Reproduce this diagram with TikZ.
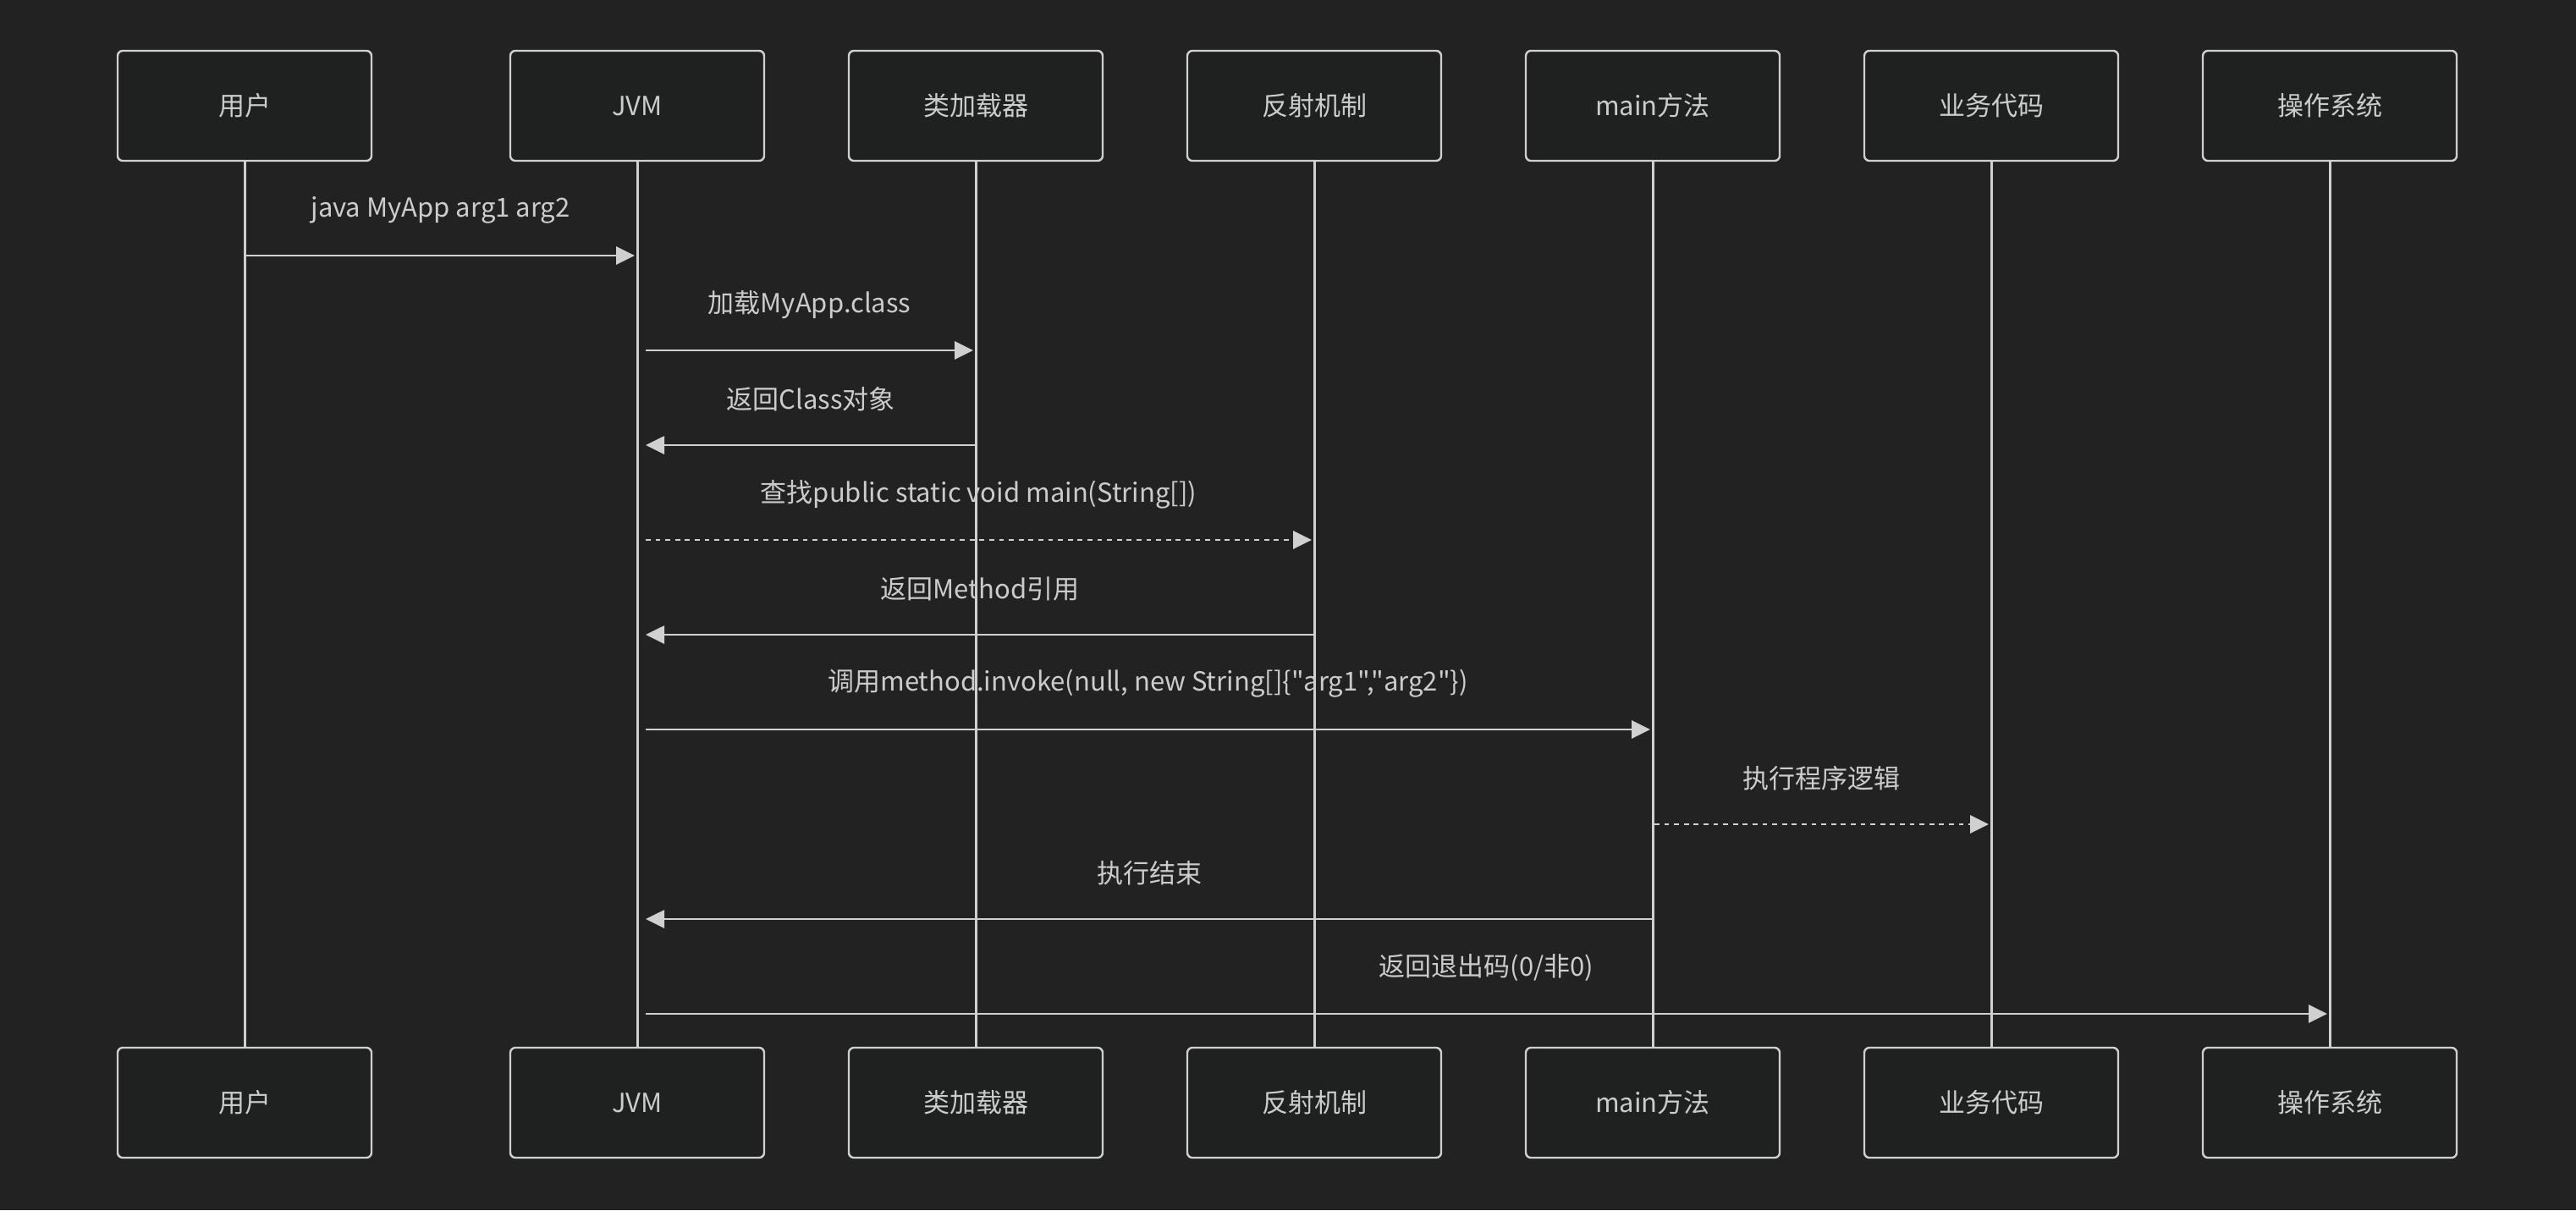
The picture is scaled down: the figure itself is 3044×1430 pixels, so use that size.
\documentclass[tikz,border=0pt]{standalone}
\usepackage{fontspec}
\setmainfont{Noto Sans CJK SC}[Ligatures=TeXOff]
\usetikzlibrary{arrows.meta}
\definecolor{bg}{HTML}{222222}
\definecolor{boxfill}{HTML}{1F2020}
\definecolor{ln}{HTML}{D0D0D0}
\definecolor{txt}{HTML}{CCCCCC}
\begin{document}
\begin{tikzpicture}[x=0.5pt,y=-0.5pt,
  actor/.style={draw=ln, fill=boxfill, line width=1.2pt, rounded corners=3pt,
    minimum width=150pt, minimum height=65pt, inner sep=0pt, text=txt,
    font=\fontsize{15.5}{18}\selectfont},
  life/.style={draw=ln, line width=1.5pt},
  msg/.style={draw=ln, line width=1.4pt, -{Triangle[length=11pt,width=10.5pt]}},
  dotmsg/.style={msg, dash pattern=on 2.9pt off 2.9pt},
  lbl/.style={text=txt, font=\fontsize{15.5}{18}\selectfont, inner sep=0pt}]
\fill[bg] (0,0) rectangle (3044,1430);
\useasboundingbox (0,0) rectangle (3044,1430);

% top actors
\node[actor] (u)   at (289,125)  {用户};
\node[actor] (jvm) at (753,125)  {JVM};
\node[actor] (cl)  at (1153,125) {类加载器};
\node[actor] (rf)  at (1553,125) {反射机制};
\node[actor] (mm)  at (1953,125) {main方法};
\node[actor] (bz)  at (2353,125) {业务代码};
\node[actor] (os)  at (2753,125) {操作系统};
% bottom actors
\node[actor] (u2)   at (289,1303)  {用户};
\node[actor] (jvm2) at (753,1303)  {JVM};
\node[actor] (cl2)  at (1153,1303) {类加载器};
\node[actor] (rf2)  at (1553,1303) {反射机制};
\node[actor] (mm2)  at (1953,1303) {main方法};
\node[actor] (bz2)  at (2353,1303) {业务代码};
\node[actor] (os2)  at (2753,1303) {操作系统};

% lifelines
\foreach \a/\b in {u/u2,jvm/jvm2,cl/cl2,rf/rf2,mm/mm2,bz/bz2,os/os2}
  \draw[life] (\a.south) -- (\b.north);

% message end points
\coordinate (a1) at (291,302);  \coordinate (b1) at (750,302);
\coordinate (a2) at (763,414);  \coordinate (b2) at (1150,414);
\coordinate (a3) at (1153,526); \coordinate (b3) at (763,526);
\coordinate (a4) at (763,638);  \coordinate (b4) at (1550,638);
\coordinate (a5) at (1553,750); \coordinate (b5) at (763,750);
\coordinate (a6) at (763,862);  \coordinate (b6) at (1950,862);
\coordinate (a7) at (1955,974); \coordinate (b7) at (2350,974);
\coordinate (a8) at (1953,1086);\coordinate (b8) at (763,1086);
\coordinate (a9) at (763,1198); \coordinate (b9) at (2750,1198);

\draw[msg] (a1) -- (b1) node[lbl, midway, yshift=27pt] (t1) {java MyApp arg1 arg2};
\draw[msg] (a2) -- (b2) node[lbl, midway, yshift=27pt] (t2) {加载MyApp.class};
\draw[msg] (a3) -- (b3) node[lbl, midway, yshift=27pt] (t3) {返回Class对象};
\draw[dotmsg] (a4) -- (b4) node[lbl, midway, yshift=27pt] (t4) {查找public static void main(String[])};
\draw[msg] (a5) -- (b5) node[lbl, midway, yshift=27pt] (t5) {返回Method引用};
\draw[msg] (a6) -- (b6) node[lbl, midway, yshift=27pt] (t6) {调用method.invoke(null, new String[]\{"arg1","arg2"\})};
\draw[dotmsg] (a7) -- (b7) node[lbl, midway, yshift=27pt] (t7) {执行程序逻辑};
\draw[msg] (a8) -- (b8) node[lbl, midway, yshift=27pt] (t8) {执行结束};
\draw[msg] (a9) -- (b9) node[lbl, midway, yshift=27pt] (t9) {返回退出码(0/非0)};
\end{tikzpicture}
\end{document}
